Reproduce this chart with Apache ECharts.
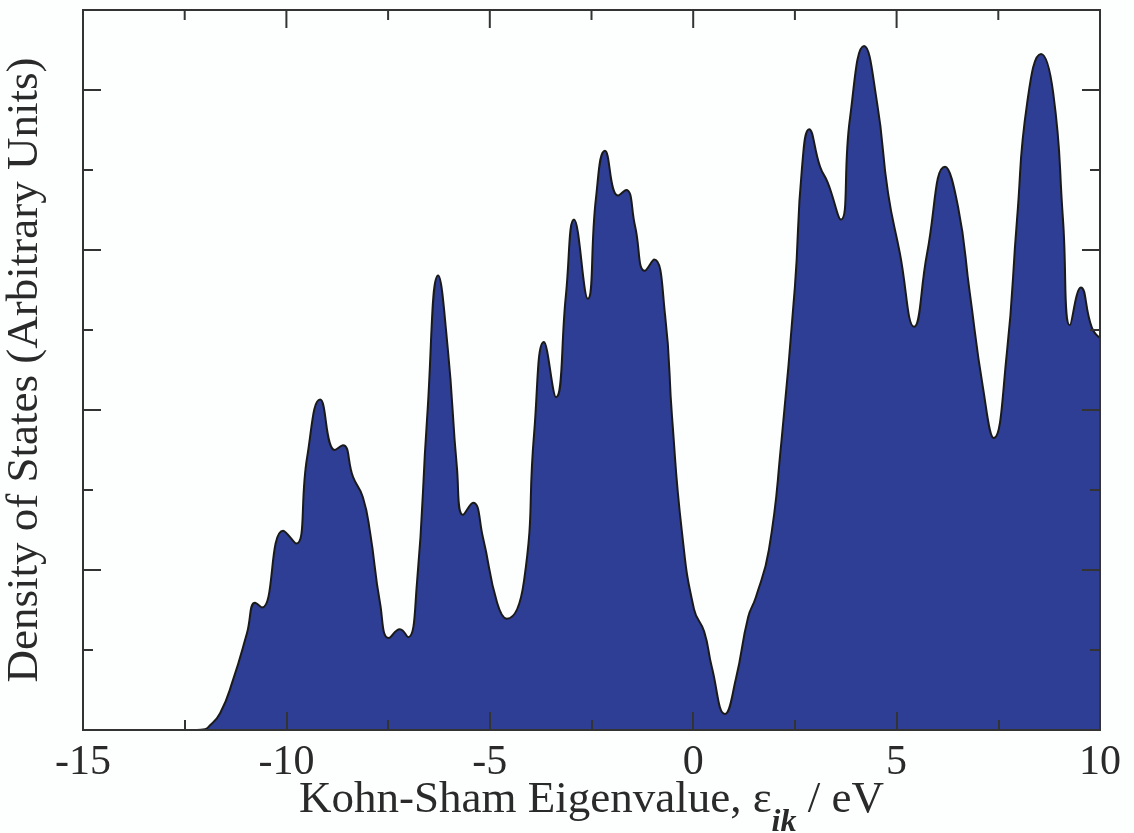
<!DOCTYPE html>
<html>
<head>
<meta charset="utf-8">
<script src="https://cdn.jsdelivr.net/npm/echarts@6/dist/echarts.min.js"></script>
<style>
  html, body { margin: 0; padding: 0; background: #fdfefe; }
  #main { width: 1134px; height: 833px; }
</style>
</head>
<body>
<div id="main"></div>
<script>
var myChart = echarts.init(document.getElementById('main'));

// Kohn-Sham eigenvalue (eV) and density of states (arb. units)
var energy = [
  -15, -12.2, -12.0, -11.93, -11.63, -11.31, -10.97, -10.77, -10.60,
  -10.08, -9.76, -9.49, -9.17, -8.81, -8.61, -8.36, -8.12, -7.94, -7.70,
  -7.48, -7.21, -7.01, -6.79, -6.54, -6.27, -6.03, -5.81, -5.66, -5.41,
  -5.17, -4.82, -4.58, -4.16, -3.91, -3.67, -3.37, -3.13, -2.93, -2.59,
  -2.39, -2.17, -1.85, -1.65, -1.43, -1.19, -0.96, -0.69, -0.52, -0.28,
  0.02, 0.27, 0.46, 0.78, 1.05, 1.35, 1.54, 1.86, 2.16, 2.50,
  2.67, 2.85, 3.12, 3.31, 3.63, 3.85, 4.20, 4.52, 4.79, 5.08,
  5.43, 5.75, 6.19, 6.51, 6.80, 7.12, 7.39, 7.71, 7.96, 8.21,
  8.55, 8.85, 9.09, 9.26, 9.53, 9.80, 10.0
];
var dos = [
  0, 0, 0.01, 0.03, 0.21, 0.63, 1.21, 1.59, 1.53,
  2.49, 2.33, 3.41, 4.13, 3.5, 3.56, 3.16, 2.91, 2.46, 1.59,
  1.15, 1.26, 1.16, 1.84, 3.91, 5.68, 4.75, 3.29, 2.69, 2.84,
  2.41, 1.59, 1.39, 1.86, 3.71, 4.85, 4.16, 5.43, 6.38, 5.39,
  6.65, 7.24, 6.68, 6.75, 6.3, 5.74, 5.88, 5.18, 3.91, 2.49,
  1.51, 1.23, 0.78, 0.2, 0.64, 1.41, 1.66, 2.25, 3.56, 5.54,
  7.0, 7.51, 7.04, 6.84, 6.38, 7.63, 8.55, 7.84, 6.71, 5.96,
  5.04, 5.96, 7.04, 6.54, 5.46, 4.29, 3.65, 4.71, 6.38, 7.84,
  8.45, 7.96, 6.38, 5.06, 5.53, 5.03, 4.9
];

var xTicks = { min: -15, max: 10, interval: 5 };
var yRange = { min: 0, max: 9 };
// tick positions along the top edge (majors every 5 eV, minors in between)
var topTicks = [-12.5, -10, -7.5, -5, -2.5, 0, 2.5, 5, 7.5];

var points = energy.map(function (e, i) {
    return [e, dos[i]];
});

var frameColor = '#333';
var textColor = '#2a2a2a';
var serif = 'Liberation Serif';

function xAxisDef(pos, withLabels) {
    var ax = {
        type: 'value',
        position: pos,
        min: xTicks.min,
        max: xTicks.max,
        interval: xTicks.interval,
        z: 5,
        axisLine: { show: true, onZero: false, lineStyle: { color: frameColor, width: 2 } },
        axisTick: { show: withLabels, inside: true, length: 18, lineStyle: { color: frameColor, width: 2 } },
        minorTick: { show: withLabels, splitNumber: 2, length: 10, lineStyle: { color: frameColor, width: 2 } },
        splitLine: { show: false },
        axisLabel: {
            show: withLabels,
            fontSize: 42,
            fontFamily: serif,
            color: textColor,
            margin: 12
        }
    };
    if (withLabels) {
        ax.name = '{m|Kohn-Sham Eigenvalue, ε}{s|ik}{m| / eV}';
        ax.nameLocation = 'middle';
        ax.nameGap = 48;
        ax.nameMoveOverlap = false;
        ax.nameTextStyle = {
            rich: {
                m: { fontSize: 45, fontFamily: serif, color: textColor, lineHeight: 46, verticalAlign: 'top' },
                s: { fontSize: 32, fontFamily: serif, fontWeight: 'bold', fontStyle: 'italic', color: textColor, lineHeight: 90 }
            }
        };
    }
    return ax;
}

function yAxisDef(pos, step, len, withName) {
    var ax = {
        type: 'value',
        position: pos,
        min: yRange.min,
        max: yRange.max,
        interval: step,
        z: 5,
        axisLine: { show: true, onZero: false, lineStyle: { color: frameColor, width: 2 } },
        axisTick: { show: true, inside: true, length: len, lineStyle: { color: frameColor, width: 2 } },
        splitLine: { show: false },
        axisLabel: { show: false }
    };
    if (withName) {
        ax.name = 'Density of States (Arbitrary Units)';
        ax.nameLocation = 'middle';
        ax.nameGap = 35;
        ax.nameMoveOverlap = false;
        ax.nameTextStyle = { fontSize: 45, fontFamily: serif, color: textColor };
    }
    return ax;
}

var option = {
    animation: false,
    backgroundColor: '#fdfefe',
    grid: { left: 83, right: 34, top: 10, bottom: 103, outerBoundsMode: 'none', containLabel: false },
    xAxis: [
        xAxisDef('bottom', true),
        xAxisDef('top', false)
    ],
    yAxis: [
        yAxisDef('left', 2, 18, true),
        yAxisDef('left', 1, 10, false),
        yAxisDef('right', 2, 18, false),
        yAxisDef('right', 1, 10, false)
    ],
    series: [{
        type: 'line',
        data: points,
        xAxisIndex: 0,
        yAxisIndex: 0,
        showSymbol: false,
        smooth: 0.5,
        z: 2,
        lineStyle: { color: '#1a1a1a', width: 2 },
        areaStyle: { color: '#2f3e95', opacity: 1 }
    }, {
        // inward ticks on the top edge of the frame
        type: 'custom',
        xAxisIndex: 0,
        yAxisIndex: 0,
        z: 6,
        silent: true,
        data: topTicks,
        renderItem: function (params, api) {
            var x = api.value(0);
            var p = api.coord([x, yRange.max]);
            var len = (x % 5 === 0) ? 18 : 10;
            return {
                type: 'line',
                shape: { x1: p[0], y1: p[1], x2: p[0], y2: p[1] + len },
                style: { stroke: frameColor, lineWidth: 2 }
            };
        }
    }]
};

myChart.setOption(option);
</script>
</body>
</html>
